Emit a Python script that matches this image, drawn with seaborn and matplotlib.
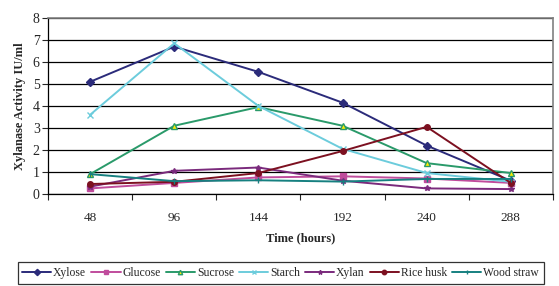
"""
Xylanase activity vs time for different carbon sources
"""

import numpy as np
import pandas as pd
import matplotlib
matplotlib.use('Agg')
import matplotlib.pyplot as plt
import seaborn as sns
from matplotlib.ticker import FixedLocator

# Data
hours = ['48', '96', '144', '192', '240', '288']
xylose = [5.1, 6.7, 5.55, 4.15, 2.2, 0.6]
glucose = [0.25, 0.5, 0.75, 0.8, 0.7, 0.5]
sucrose = [0.9, 3.1, 3.95, 3.1, 1.4, 0.95]
starch = [3.6, 6.85, 4.0, 2.05, 0.95, 0.55]
xylan = [0.33, 1.05, 1.2, 0.6, 0.25, 0.22]
rice_husk = [0.45, 0.55, 0.95, 1.95, 3.05, 0.5]
wood_straw = [0.9, 0.58, 0.62, 0.56, 0.68, 0.68]

series = {
    'Xylose': xylose,
    'Glucose': glucose,
    'Sucrose': sucrose,
    'Starch': starch,
    'Xylan': xylan,
    'Rice husk': rice_husk,
    'Wood straw': wood_straw,
}

colors = {
    'Xylose': '#2b2b7a',
    'Glucose': '#c04c9c',
    'Sucrose': '#2a9a6a',
    'Starch': '#6cccdc',
    'Xylan': '#7a2a7c',
    'Rice husk': '#7c1020',
    'Wood straw': '#168080',
}
markers = {
    'Xylose': 'D',
    'Glucose': 's',
    'Sucrose': '^',
    'Starch': 'x',
    'Xylan': '*',
    'Rice husk': 'o',
    'Wood straw': '|',
}

rows = []
for name, vals in series.items():
    for i, v in enumerate(vals):
        rows.append({'pos': i, 'hours': hours[i], 'activity': v, 'source': name})
df = pd.DataFrame(rows)

sns.set_style('white')
plt.rcParams['font.family'] = ['Liberation Serif', 'DejaVu Serif']

fig = plt.figure(figsize=(5.59, 2.86), dpi=100)
ax = fig.add_axes([0.086, 0.322, 0.903, 0.615])

for name in series:
    sub = df[df['source'] == name]
    mfc = '#ffee00' if name == 'Sucrose' else colors[name]
    sns.lineplot(data=sub, x='pos', y='activity', ax=ax, color=colors[name],
                 marker=markers[name], markersize=4, linewidth=1.4,
                 markerfacecolor=mfc, markeredgecolor=colors[name],
                 markeredgewidth=1.0, label=name)

ax.set_xlim(-0.5, 5.5)
ax.set_ylim(0, 8)
ax.set_yticks(range(0, 9))
ax.set_xticks(range(len(hours)))
ax.set_xticklabels(hours)
ax.xaxis.set_minor_locator(FixedLocator(np.arange(-0.5, 6, 1)))
ax.tick_params(axis='x', which='major', length=0, pad=13, labelsize=9.5)
ax.tick_params(axis='x', which='minor', length=4, width=0.8, direction='out', bottom=True)
ax.tick_params(axis='y', length=4, width=0.8, direction='out', left=True, labelsize=10, pad=2)

ax.grid(axis='y', color='black', linewidth=0.9)
ax.set_axisbelow(True)
for side in ['top', 'right']:
    ax.spines[side].set_color('#808080')
    ax.spines[side].set_linewidth(1.2)
for side in ['left', 'bottom']:
    ax.spines[side].set_color('black')
    ax.spines[side].set_linewidth(0.9)

ax.set_xlabel('Time (hours)', fontsize=9, fontweight='bold', labelpad=6)
ax.set_ylabel('Xylanase Activity IU/ml', fontsize=9, fontweight='bold', labelpad=5)

handles, labels = ax.get_legend_handles_labels()
ax.get_legend().remove()
leg = fig.legend(handles, labels, loc='lower center', bbox_to_anchor=(0.502, 0.0),
                 ncol=7, frameon=True, fancybox=False, edgecolor='black',
                 fontsize=8.4, handlelength=2.5, handletextpad=0.15, columnspacing=0.45,
                 borderpad=0.4, borderaxespad=0.2, markerscale=0.8)
leg.get_frame().set_linewidth(0.9)

plt.savefig('out.png', dpi=100)
plt.close()
